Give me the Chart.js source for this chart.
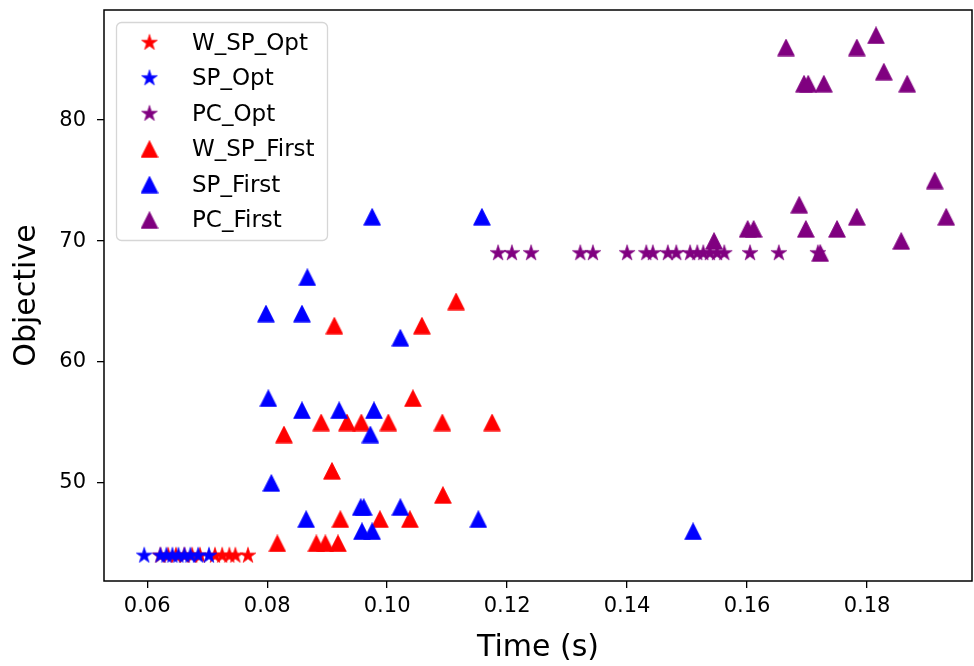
<!DOCTYPE html>
<html>
<head>
<meta charset="utf-8">
<script src="https://cdn.jsdelivr.net/npm/chart.js@4.4.0/dist/chart.umd.min.js"></script>
<style>
  html, body { margin: 0; padding: 0; background: #fff; overflow: hidden; }
  #myChart { display: block; }
</style>
</head>
<body>
<canvas id="myChart" width="974" height="666"></canvas>
<script>
// series names / colours / marker kind, in plotting order
const seriesNames = ['W_SP_Opt', 'SP_Opt', 'PC_Opt', 'W_SP_First', 'SP_First', 'PC_First']
const seriesColors = ['#ff0000', '#0000ff', '#800080', '#ff0000', '#0000ff', '#800080']
const seriesMarkers = ['star', 'star', 'star', 'tri', 'tri', 'tri']

// time (s) and objective
const wspOptTime = [0.0622, 0.0635, 0.0648, 0.0662, 0.0675, 0.0688, 0.0713, 0.0725, 0.0737, 0.0747, 0.0768]
const wspOptObj = [44, 44, 44, 44, 44, 44, 44, 44, 44, 44, 44]

const spOptTime = [0.0595, 0.0622, 0.0632, 0.0642, 0.0652, 0.0662, 0.0672, 0.0685, 0.0703]
const spOptObj = [44, 44, 44, 44, 44, 44, 44, 44, 44]

const pcOptTime = [0.1185, 0.1208, 0.1240, 0.1322, 0.1343, 0.1400, 0.1432, 0.1443, 0.1468, 0.1482,
                   0.1505, 0.1517, 0.1527, 0.1538, 0.1550, 0.1562, 0.1605, 0.1653, 0.1718]
const pcOptObj = [69, 69, 69, 69, 69, 69, 69, 69, 69, 69, 69, 69, 69, 69, 69, 69, 69, 69, 69]

const wspFirstTime = [0.0817, 0.0882, 0.0897, 0.0918, 0.0828, 0.0890, 0.0933, 0.0957, 0.1002, 0.1092,
                      0.1175, 0.1043, 0.0908, 0.1093, 0.0922, 0.0988, 0.1038, 0.0912, 0.1058, 0.1115]
const wspFirstObj = [45, 45, 45, 45, 54, 55, 55, 55, 55, 55,
                     55, 57, 51, 49, 47, 47, 47, 63, 63, 65]

const spFirstTime = [0.0802, 0.0858, 0.0920, 0.0978, 0.0972, 0.0807, 0.0956, 0.0961, 0.1022, 0.0865,
                     0.1152, 0.0958, 0.0975, 0.0975, 0.1158, 0.0867, 0.0798, 0.0858, 0.1022, 0.1510]
const spFirstObj = [57, 56, 56, 56, 54, 50, 48, 48, 48, 47,
                    47, 46, 46, 72, 72, 67, 64, 64, 62, 46]

const pcFirstTime = [0.1665, 0.1783, 0.1815, 0.1828, 0.1695, 0.1702, 0.1728, 0.1867, 0.1913, 0.1687,
                     0.1783, 0.1932, 0.1601, 0.1611, 0.1698, 0.1750, 0.1857, 0.1722, 0.1545]
const pcFirstObj = [86, 86, 87, 84, 83, 83, 83, 83, 75, 73,
                    72, 72, 71, 71, 71, 71, 70, 69, 70]

const xTicks = [0.06, 0.08, 0.10, 0.12, 0.14, 0.16, 0.18]
const yTicks = [50, 60, 70, 80]

const timesByName = { W_SP_Opt: wspOptTime, SP_Opt: spOptTime, PC_Opt: pcOptTime,
  W_SP_First: wspFirstTime, SP_First: spFirstTime, PC_First: pcFirstTime }
const objsByName = { W_SP_Opt: wspOptObj, SP_Opt: spOptObj, PC_Opt: pcOptObj,
  W_SP_First: wspFirstObj, SP_First: spFirstObj, PC_First: pcFirstObj }

// marker images (matplotlib-like filled star and triangle)
const makeStar = (color) => {
  const c = document.createElement('canvas')
  c.width = 20; c.height = 20
  const ctx = c.getContext('2d')
  const R = 8.4, r = R * 0.381966
  ctx.beginPath()
  for (let i = 0; i < 10; i++) {
    const rad = i % 2 === 0 ? R : r
    const a = -Math.PI / 2 + i * Math.PI / 5
    const px = 10 + rad * Math.cos(a), py = 10 + rad * Math.sin(a)
    if (i === 0) ctx.moveTo(px, py); else ctx.lineTo(px, py)
  }
  ctx.closePath()
  ctx.fillStyle = color
  ctx.strokeStyle = color
  ctx.lineWidth = 0.6
  ctx.fill()
  ctx.stroke()
  return c
}
const makeTri = (color) => {
  const c = document.createElement('canvas')
  c.width = 18; c.height = 18
  const ctx = c.getContext('2d')
  ctx.beginPath()
  ctx.moveTo(9, 0.6)
  ctx.lineTo(17.4, 17.2)
  ctx.lineTo(0.6, 17.2)
  ctx.closePath()
  ctx.fillStyle = color
  ctx.lineJoin = 'round'
  ctx.strokeStyle = color
  ctx.lineWidth = 0.8
  ctx.fill()
  ctx.stroke()
  return c
}
const markerImgs = seriesNames.map((n, i) =>
  seriesMarkers[i] === 'star' ? makeStar(seriesColors[i]) : makeTri(seriesColors[i]))

const datasets = seriesNames.map((name, i) => ({
  label: name,
  data: timesByName[name].map((t, j) => ({ x: t, y: objsByName[name][j] })),
  pointStyle: markerImgs[i],
  pointRadius: 8,
  backgroundColor: seriesColors[i],
  borderColor: seriesColors[i],
  order: seriesNames.length - i   // later series drawn on top, like matplotlib
}))

const frame = {
  id: 'frame',
  afterDatasetsDraw(chart) {
    const { ctx, chartArea: a } = chart
    ctx.save()
    ctx.strokeStyle = '#000'
    ctx.lineWidth = 1.5
    ctx.strokeRect(a.left, a.top, a.right - a.left, a.bottom - a.top)
    ctx.restore()
  }
}

const boxLegend = {
  id: 'boxLegend',
  afterDraw(chart) {
    const { ctx } = chart
    const x0 = 116, y0 = 22, w = 211, h = 218, rr = 5
    ctx.save()
    ctx.beginPath()
    ctx.roundRect(x0 + 0.5, y0 + 0.5, w, h, rr)
    ctx.fillStyle = 'rgba(255,255,255,0.8)'
    ctx.fill()
    ctx.strokeStyle = '#d6d6d6'
    ctx.lineWidth = 1.3
    ctx.stroke()
    ctx.font = '23px "DejaVu Sans"'
    ctx.fillStyle = '#000'
    ctx.textBaseline = 'middle'
    chart.data.datasets.forEach((ds, i) => {
      const cy = 42.7 + i * 35.5
      const img = ds.pointStyle
      ctx.drawImage(img, 149.5 - img.width / 2, cy - img.height / 2)
      ctx.fillText(ds.label, 192, cy + 1)
    })
    ctx.restore()
  }
}

new Chart(document.getElementById('myChart'), {
  type: 'scatter',
  data: { datasets },
  options: {
    responsive: false,
    animation: false,
    events: [],
    layout: { autoPadding: false, padding: { top: 10, right: 2, left: 0, bottom: 0 } },
    plugins: { legend: { display: false }, tooltip: { enabled: false } },
    scales: {
      x: {
        type: 'linear',
        min: 0.0528,
        max: 0.1975,
        afterBuildTicks: (scale) => { scale.ticks = xTicks.map(v => ({ value: v })) },
        afterFit: (scale) => { scale.height = 85; scale.paddingLeft = 0; scale.paddingRight = 0 },
        grid: { display: true, drawOnChartArea: false, drawTicks: true, tickLength: 7, color: '#000', lineWidth: 1.3 },
        border: { display: false },
        ticks: {
          color: '#000', padding: 6, maxRotation: 0,
          font: { family: 'DejaVu Sans', size: 21 },
          callback: (v) => v.toFixed(2)
        },
        title: {
          display: true, text: 'Time (s)', color: '#000',
          font: { family: 'DejaVu Sans', size: 30, lineHeight: 1.2 },
          padding: { top: 0, bottom: 0 }
        }
      },
      y: {
        type: 'linear',
        min: 41.9,
        max: 89.1,
        afterBuildTicks: (scale) => { scale.ticks = yTicks.map(v => ({ value: v })) },
        afterFit: (scale) => { scale.width = 104; scale.paddingTop = 0; scale.paddingBottom = 0 },
        grid: { display: true, drawOnChartArea: false, drawTicks: true, tickLength: 7, color: '#000', lineWidth: 1.3 },
        border: { display: false },
        ticks: {
          color: '#000', padding: 11,
          font: { family: 'DejaVu Sans', size: 21 },
          callback: (v) => String(v)
        },
        title: {
          display: true, text: 'Objective', color: '#000',
          font: { family: 'DejaVu Sans', size: 30, lineHeight: 1.2 },
          padding: { top: 9, bottom: 0 }
        }
      }
    }
  },
  plugins: [frame, boxLegend]
})
</script>
</body>
</html>
